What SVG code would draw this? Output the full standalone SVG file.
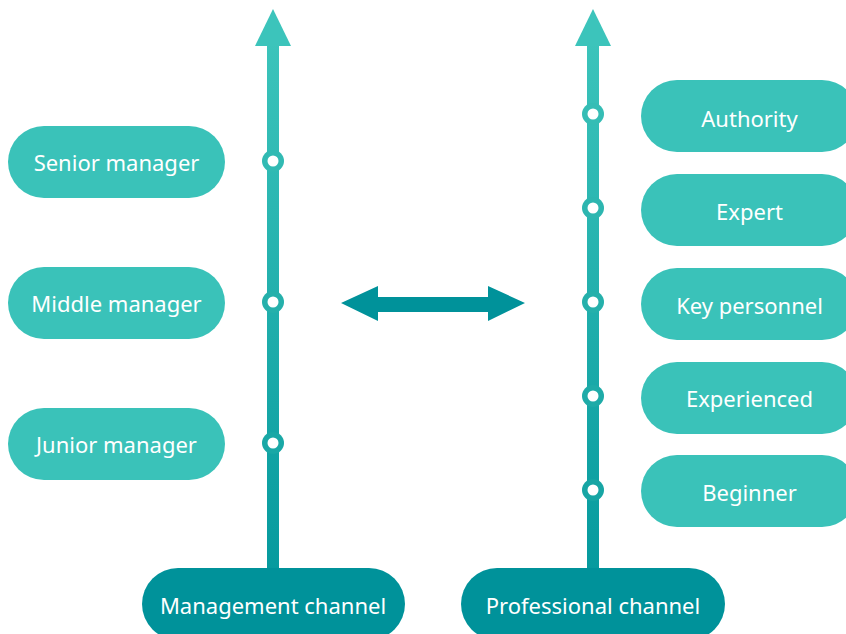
<svg xmlns="http://www.w3.org/2000/svg" width="846" height="634" viewBox="0 0 846 634">
  <defs>
    <linearGradient id="lineGrad" x1="0" y1="0" x2="0" y2="1">
      <stop offset="0" stop-color="#3cc4bb"/>
      <stop offset="1" stop-color="#069a9e"/>
    </linearGradient>
    <style>
      .pill { fill: #3ac2b9; }
      .dark { fill: #00929a; }
      .lbl { font-family: "Noto Sans", "Liberation Sans", sans-serif; font-size: 22px; fill: #ffffff; text-anchor: middle; dominant-baseline: central; }
      .dotI { fill: #ffffff; }
    </style>
  </defs>
  <rect width="846" height="634" fill="#ffffff"/>

  <g id="connectors">
    <!-- management axis -->
    <rect x="267" y="40" width="12" height="530" fill="url(#lineGrad)"/>
    <polygon points="273,9 291,46 255,46" fill="#3cc4bb"/>
    <!-- professional axis -->
    <rect x="587" y="40" width="12" height="530" fill="url(#lineGrad)"/>
    <polygon points="593,9 611,46 575,46" fill="#3cc4bb"/>
    <!-- double arrow -->
    <polygon points="341,303 378,286 378,297 488,297 488,286 525,303 488,321 488,312 378,312 378,321" fill="#00929a"/>
    <!-- dots -->
    <g class="dots">
      <circle cx="273" cy="161" r="11" fill="#31bab3"/><circle cx="273" cy="161" r="5.5" class="dotI"/>
      <circle cx="273" cy="302" r="11" fill="#25b0ab"/><circle cx="273" cy="302" r="5.5" class="dotI"/>
      <circle cx="273" cy="443" r="11" fill="#19a8a6"/><circle cx="273" cy="443" r="5.5" class="dotI"/>
      <circle cx="593" cy="114" r="11" fill="#35bdb5"/><circle cx="593" cy="114" r="5.5" class="dotI"/>
      <circle cx="593" cy="208" r="11" fill="#2db6b0"/><circle cx="593" cy="208" r="5.5" class="dotI"/>
      <circle cx="593" cy="302" r="11" fill="#25b0ab"/><circle cx="593" cy="302" r="5.5" class="dotI"/>
      <circle cx="593" cy="396" r="11" fill="#1eaba8"/><circle cx="593" cy="396" r="5.5" class="dotI"/>
      <circle cx="593" cy="490" r="11" fill="#17a5a4"/><circle cx="593" cy="490" r="5.5" class="dotI"/>
    </g>
  </g>

  <g id="senior-manager">
    <rect class="pill" x="8" y="126" width="217" height="72" rx="36"/>
    <text class="lbl" x="116.5" y="162">Senior manager</text>
  </g>
  <g id="middle-manager">
    <rect class="pill" x="8" y="267" width="217" height="72" rx="36"/>
    <text class="lbl" x="116.5" y="303">Middle manager</text>
  </g>
  <g id="junior-manager">
    <rect class="pill" x="8" y="408" width="217" height="72" rx="36"/>
    <text class="lbl" x="116.5" y="444">Junior manager</text>
  </g>

  <g id="authority">
    <rect class="pill" x="641" y="80" width="217" height="72" rx="36"/>
    <text class="lbl" x="749.5" y="118">Authority</text>
  </g>
  <g id="expert">
    <rect class="pill" x="641" y="174" width="217" height="72" rx="36"/>
    <text class="lbl" x="749.5" y="211">Expert</text>
  </g>
  <g id="key-personnel">
    <rect class="pill" x="641" y="268" width="217" height="72" rx="36"/>
    <text class="lbl" x="749.5" y="305">Key personnel</text>
  </g>
  <g id="experienced">
    <rect class="pill" x="641" y="362" width="217" height="72" rx="36"/>
    <text class="lbl" x="749.5" y="398">Experienced</text>
  </g>
  <g id="beginner">
    <rect class="pill" x="641" y="455" width="217" height="72" rx="36"/>
    <text class="lbl" x="749.5" y="492">Beginner</text>
  </g>

  <g id="management-channel">
    <rect class="dark" x="142" y="568" width="263" height="72" rx="36"/>
    <text class="lbl" x="273" y="605">Management channel</text>
  </g>
  <g id="professional-channel">
    <rect class="dark" x="461" y="568" width="264" height="72" rx="36"/>
    <text class="lbl" x="593" y="605">Professional channel</text>
  </g>
</svg>
